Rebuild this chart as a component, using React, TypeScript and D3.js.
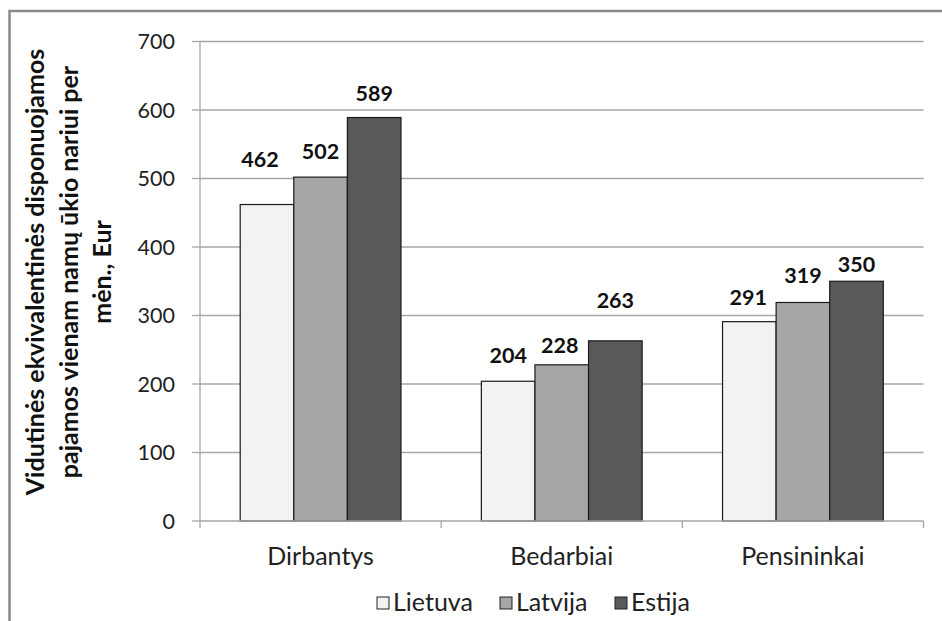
import React from "react";
import * as d3 from "d3";

const categories = ["Dirbantys", "Bedarbiai", "Pensininkai"];
const seriesNames = ["Lietuva", "Latvija", "Estija"];
const lietuva = [462, 204, 291];
const latvija = [502, 228, 319];
const estija = [589, 263, 350];
const yTicks = [0, 100, 200, 300, 400, 500, 600, 700];
const titleLines = [
  "Vidutinės ekvivalentinės disponuojamos",
  "pajamos vienam namų ūkio nariui per",
  "mėn., Eur",
];

// layout (not data)
const colors = ["#f2f2f2", "#a6a6a6", "#595959"];
const labelLift = [
  [38, 18, 17],
  [18, 12, 33],
  [17, 19, 9],
]; // [category][series] pixel gap above bar top (matches manual placement)
const labelDx = [
  [-7, 0, 0],
  [0, -2, 0],
  [-1, 0, 0],
];

const W = 942;
const H = 621;
const FONT = "Lato, 'Open Sans', sans-serif";

export default function App() {
  const values = [lietuva, latvija, estija];
  const x0 = d3.scaleBand<string>().domain(categories).range([200, 923.5]).padding(0);
  const step = x0.bandwidth();
  const barW = step / 4.5;
  const x1 = d3
    .scaleBand<string>()
    .domain(seriesNames)
    .range([(step - barW * 3) / 2, (step + barW * 3) / 2])
    .padding(0);
  const y = d3.scaleLinear().domain([0, 700]).range([521, 41.5]);

  return (
    <svg
      width={W}
      height={H}
      style={{ position: "absolute", left: 0, top: 0, background: "#fff" }}
      fontFamily={FONT}
    >
      <rect x={0} y={0} width={W} height={H} fill="#fff" />
      {/* outer frame */}
      <rect x={9.5} y={11} width={W + 20} height={H + 20} fill="none" stroke="#8a8a8a" strokeWidth={2.5} />

      {/* gridlines & y ticks */}
      {yTicks.map((t) => (
        <g key={t}>
          {t > 0 && (
            <line x1={200} x2={923.5} y1={y(t)} y2={y(t)} stroke="#a6a6a6" strokeWidth={1.3} />
          )}
          <line x1={192} x2={200} y1={y(t)} y2={y(t)} stroke="#a6a6a6" strokeWidth={1.3} />
          <text
            x={175}
            y={y(t)}
            dy="0.36em"
            textAnchor="end"
            fontSize={21.5}
            fill="#222"
          >
            {t}
          </text>
        </g>
      ))}
      {/* y axis line */}
      <line x1={200} x2={200} y1={y(700)} y2={528} stroke="#a6a6a6" strokeWidth={1.3} />

      {/* bars */}
      {categories.map((c, ci) => (
        <g key={c} transform={`translate(${x0(c)},0)`}>
          {seriesNames.map((s, si) => {
            const v = values[si][ci];
            return (
              <rect
                key={s}
                x={x1(s)!}
                y={y(v)}
                width={x1.bandwidth()}
                height={y(0) - y(v)}
                fill={colors[si]}
                stroke="#1a1a1a"
                strokeWidth={1.2}
              />
            );
          })}
        </g>
      ))}

      {/* x axis */}
      <line x1={200} x2={923.5} y1={y(0)} y2={y(0)} stroke="#a6a6a6" strokeWidth={1.3} />
      {categories.map((c, ci) => (
        <line
          key={c}
          x1={x0(c)! + step}
          x2={x0(c)! + step}
          y1={y(0)}
          y2={528}
          stroke="#a6a6a6"
          strokeWidth={1.3}
        />
      ))}

      {/* data labels */}
      {categories.map((c, ci) =>
        seriesNames.map((s, si) => {
          const v = values[si][ci];
          return (
            <text
              key={c + s}
              x={x0(c)! + x1(s)! + x1.bandwidth() / 2 + labelDx[ci][si]}
              y={y(v) - labelLift[ci][si]}
              textAnchor="middle"
              fontSize={21.5}
              fontWeight={700}
              fill="#111"
            >
              {v}
            </text>
          );
        })
      )}

      {/* category labels */}
      {categories.map((c) => (
        <text
          key={c}
          x={x0(c)! + step / 2}
          y={565}
          textAnchor="middle"
          fontSize={25}
          fill="#222"
        >
          {c}
        </text>
      ))}

      {/* y title */}
      <g transform="translate(0,272) rotate(-90)">
        {titleLines.map((l, i) => (
          <text
            key={i}
            x={0}
            y={44 + i * 33.5}
            textAnchor="middle"
            fontSize={25}
            fontWeight={700}
            fill="#111"
          >
            {l}
          </text>
        ))}
      </g>

      {/* legend */}
      {seriesNames.map((s, i) => {
        const lx = [377, 500, 615][i];
        return (
          <g key={s}>
            <rect x={lx} y={597} width={12} height={12} fill={colors[i]} stroke="#222" strokeWidth={1} />
            <text x={lx + 16} y={611} fontSize={25} fill="#222">
              {s}
            </text>
          </g>
        );
      })}
    </svg>
  );
}
